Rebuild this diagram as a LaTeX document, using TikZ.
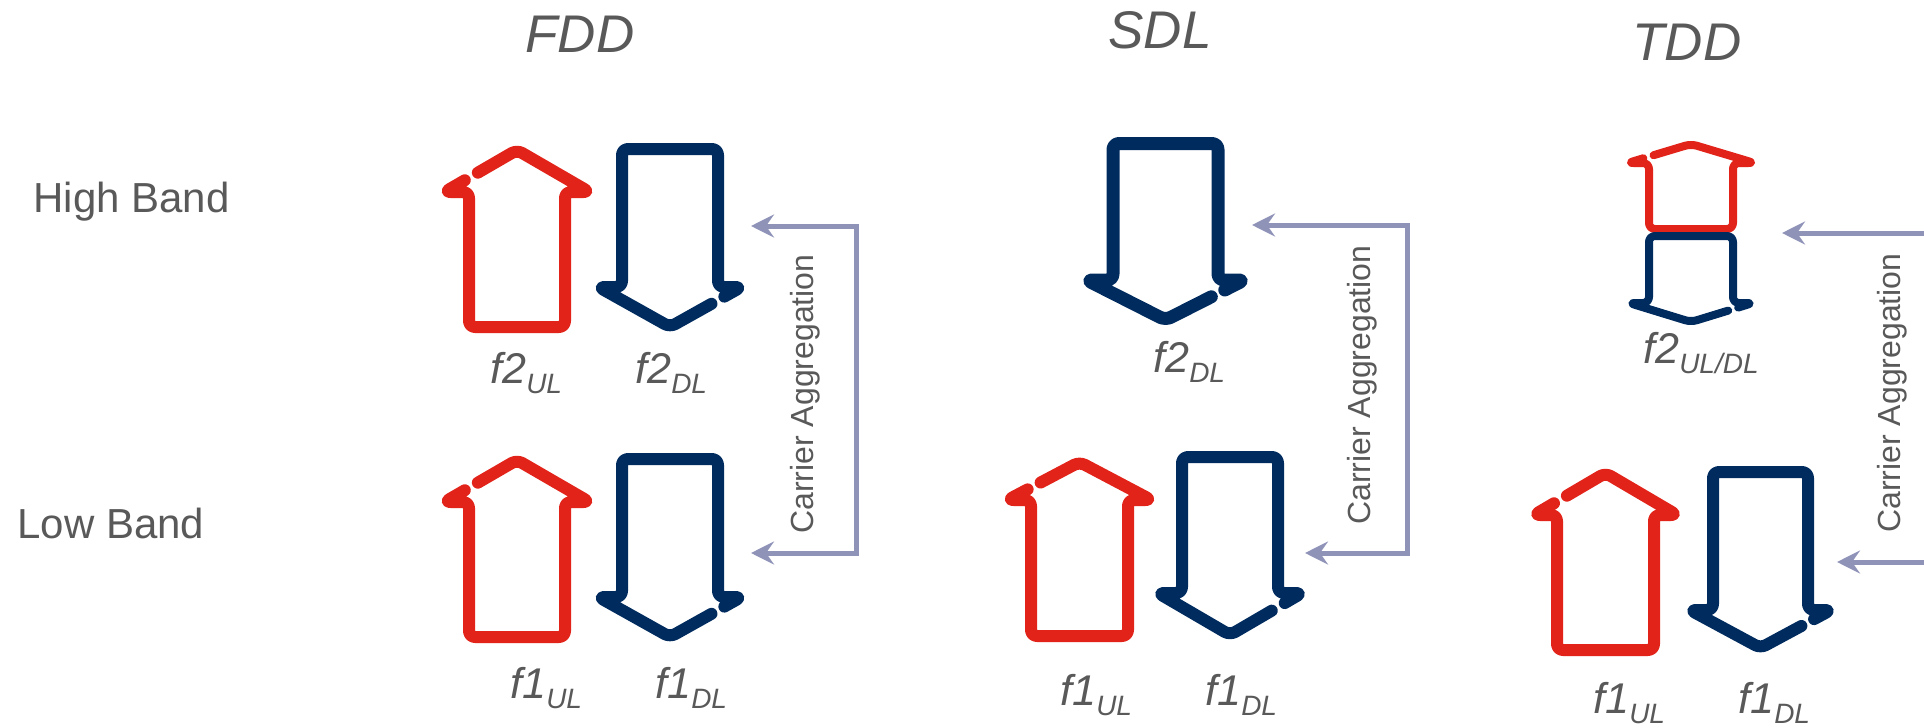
\documentclass[tikz,border=0pt]{standalone}
\usepackage{fontspec}
\setmainfont{Liberation Sans}
\usetikzlibrary{calc,arrows.meta}
\definecolor{ulred}{HTML}{E2231A}
\definecolor{dlblue}{HTML}{002B5F}
\definecolor{cagray}{HTML}{8F93B8}
\definecolor{txtgray}{HTML}{595959}
\tikzset{
  title/.style={font=\fontsize{26.5pt}{30pt}\selectfont\itshape, text=txtgray, anchor=base, inner sep=0pt},
  band/.style={font=\fontsize{21pt}{24pt}\selectfont, text=txtgray, anchor=base west, inner sep=0pt},
  freq/.style={font=\fontsize{21.5pt}{24pt}\selectfont\itshape, text=txtgray, anchor=base west, inner sep=0pt},
  catext/.style={font=\fontsize{16pt}{18pt}\selectfont, text=txtgray, anchor=base, rotate=90, inner sep=0pt},
  ca/.style={draw=cagray, line width=2.5pt, >={Stealth[length=11.5pt,width=11.5pt,inset=4pt]}},
  arr/.style={line width=6pt, rounded corners=3pt, line cap=round, line join=round},
}
% subscripted frequency label
\newcommand{\fsub}[2]{#1{\fontsize{14pt}{14pt}\selectfont\raisebox{-5pt}{#2}}}
% up arrow: style, x, apex, foot, half shaft, half head, head base, gap start, gap end
\newcommand{\ulArrow}[9]{%
  \draw[#1] ($({#2-#6},#7)!#8!(#2,#3)$) -- (#2,#3) -- ({#2+#6},#7) -- ({#2+#5},#7)
    -- ({#2+#5},#4) -- ({#2-#5},#4) -- ({#2-#5},#7) -- ({#2-#6},#7) -- ($({#2-#6},#7)!#9!(#2,#3)$);}
% down arrow: style, x, top, tip, half shaft, half head, head base, gap start, gap end
\newcommand{\dlArrow}[9]{%
  \draw[#1] ($(#2,#4)!#8!({#2+#6},#7)$) -- ({#2+#6},#7) -- ({#2+#5},#7) -- ({#2+#5},#3)
    -- ({#2-#5},#3) -- ({#2-#5},#7) -- ({#2-#6},#7) -- (#2,#4) -- ($(#2,#4)!#9!({#2+#6},#7)$);}
\begin{document}
\begin{tikzpicture}[x=0.5pt,y=-0.5pt]
    \useasboundingbox (0,0) rectangle (1924,728);
    % titles
    \node[title] (fdd) at (580,53) {FDD};
    \node[title] (sdl) at (1160,48) {SDL};
    \node[title] (tdd) at (1687,61) {TDD};
    \node[band] (high) at (33,212) {High Band};
    \node[band] (low) at (17,538) {Low Band};
    % FDD
    \ulArrow{arr,ulred}{517}{150}{327}{48}{72.5}{192}{0.46}{0.28}
    \dlArrow{arr,dlblue}{670}{149}{327}{48}{71.5}{287}{0.76}{0.58}
    \ulArrow{arr,ulred}{517}{460}{637}{48}{72.5}{502}{0.46}{0.28}
    \dlArrow{arr,dlblue}{670}{459}{637}{48}{71.5}{597}{0.76}{0.58}
    \node[freq] (fu2) at (490,383) {\fsub{f2}{UL}};
    \node[freq] (fd2) at (635,383) {\fsub{f2}{DL}};
    \node[freq] (fu1) at (510,698) {\fsub{f1}{UL}};
    \node[freq] (fd1) at (655,698) {\fsub{f1}{DL}};
    \coordinate (fca1) at (751,226);
    \coordinate (fca2) at (856,226);
    \coordinate (fca3) at (856,553);
    \coordinate (fca4) at (751,553);
    \draw[ca,<->] (fca1) -- (fca2) -- (fca3) -- (fca4);
    \node[catext] (fca) at (813,394) {Carrier Aggregation};
    % SDL
    \dlArrow{arr,dlblue,line width=6.5pt}{1165.5}{143.5}{320}{52.5}{79}{280}{0.75}{0.58}
    \ulArrow{arr,ulred}{1079.5}{462}{636}{48.5}{72}{500}{0.46}{0.28}
    \dlArrow{arr,dlblue}{1230}{457}{635}{48}{72}{593}{0.76}{0.58}
    \node[freq] (sd2) at (1153,372) {\fsub{f2}{DL}};
    \node[freq] (su1) at (1060,705) {\fsub{f1}{UL}};
    \node[freq] (sd1) at (1205,705) {\fsub{f1}{DL}};
    \coordinate (sca1) at (1252,225);
    \coordinate (sca2) at (1407,225);
    \coordinate (sca3) at (1407,553);
    \coordinate (sca4) at (1305,553);
    \draw[ca,<->] (sca1) -- (sca2) -- (sca3) -- (sca4);
    \node[catext] (sca) at (1370,385) {Carrier Aggregation};
    % TDD
    \ulArrow{arr,ulred,line width=4pt}{1691}{144}{229}{42}{63.5}{163}{0.41}{0.25}
    \dlArrow{arr,dlblue,line width=4pt}{1691}{236}{322}{42}{62}{303}{0.76}{0.60}
    \ulArrow{arr,ulred}{1605.5}{473}{650}{48.5}{71.5}{515}{0.46}{0.28}
    \dlArrow{arr,dlblue}{1760.5}{472}{648}{47.5}{70.5}{610}{0.76}{0.58}
    \node[freq] (tu2) at (1643,363) {\fsub{f2}{UL/DL}};
    \node[freq] (tu1) at (1593,713) {\fsub{f1}{UL}};
    \node[freq] (td1) at (1738,713) {\fsub{f1}{DL}};
    \coordinate (tca1) at (1782,233);
    \coordinate (tca2) at (1924,233);
    \coordinate (tca3) at (1837,562);
    \coordinate (tca4) at (1924,562);
    \draw[ca,<-] (tca1) -- (tca2);
    \draw[ca,<-] (tca3) -- (tca4);
    \node[catext] (tca) at (1900,393) {Carrier Aggregation};
\end{tikzpicture}
\end{document}
